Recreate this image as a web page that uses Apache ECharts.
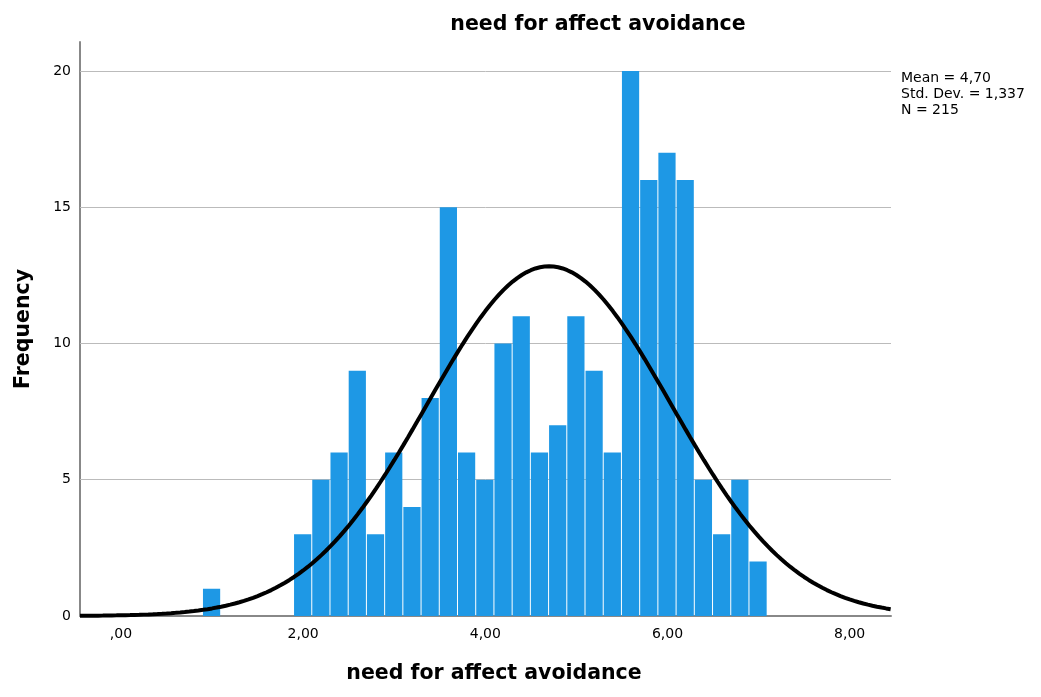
<!DOCTYPE html>
<html><head><meta charset="utf-8">
<script src="https://cdn.jsdelivr.net/npm/echarts@6/dist/echarts.min.js"></script>
<style>html,body{margin:0;padding:0;background:#fff}#c{width:1041px;height:697px}</style>
</head><body><div id="c"></div>
<script>
const binCenters = [1.0,2.0,2.2,2.4,2.6,2.8,3.0,3.2,3.4,3.6,3.8,4.0,4.2,4.4,4.6,4.8,5.0,5.2,5.4,5.6,5.8,6.0,6.2,6.4,6.6,6.8,7.0];
const frequencies = [1,3,5,6,9,3,6,4,8,15,6,5,10,11,6,7,11,9,6,20,16,17,16,5,3,5,2];
const binWidth = 0.2;
const statMean = 4.70;
const statSD = 1.337;
const statN = 215;
const xTicks = [0,2,4,6,8];
const yTicks = [0,5,10,15,20];
const gridValues = [5,10,15,20];

const curve = [];
for (let i = 0; i <= 178; i++) {
  const x = -0.45 + i * 0.05;
  const z = (x - statMean) / statSD;
  curve.push([x, statN * binWidth * Math.exp(-0.5 * z * z) / (statSD * Math.sqrt(2 * Math.PI))]);
}
const bars = binCenters.map((c, i) => [c - binWidth/2, c + binWidth/2, frequencies[i]]);
const fmt = v => (v === 0 ? ',00' : v.toFixed(2).replace('.', ','));
const F = 'DejaVu Sans';

const chart = echarts.init(document.getElementById('c'), null, {renderer:'canvas'});
chart.setOption({
  animation:false,
  textStyle:{fontFamily:F},
  title:{text:'need for affect avoidance', left:593, top:9, textAlign:'center',
    textStyle:{fontFamily:F, fontSize:20.5, fontWeight:'bold', color:'#000'}},
  graphic:[{type:'text', left:901, top:70, style:{
    text:'Mean = ' + statMean.toFixed(2).replace('.', ',') + '\nStd. Dev. = ' + statSD.toFixed(3).replace('.', ',') + '\nN = ' + statN,
    font:'14px DejaVu Sans', fill:'#000', lineHeight:16}}],
  grid:{left:80, right:150, top:42, bottom:81},
  xAxis:{type:'value', min:-0.45, max:8.454, interval:2,
    name:'need for affect avoidance', nameLocation:'middle', nameGap:47,
    nameTextStyle:{fontFamily:F, fontSize:20.5, fontWeight:'bold', color:'#000', padding:[0,0,0,17]},
    axisLine:{show:true, onZero:false, lineStyle:{color:'#888', width:2}},
    axisTick:{show:false}, splitLine:{show:false},
    axisLabel:{color:'#000', fontSize:14, margin:11,
      customValues:xTicks, formatter:v => fmt(v)}},
  yAxis:{type:'value', min:0, max:21.06, interval:5,
    name:'Frequency', nameLocation:'middle', nameGap:46,
    nameTextStyle:{fontFamily:F, fontSize:20.5, fontWeight:'bold', color:'#000'},
    axisLine:{show:true, onZero:false, lineStyle:{color:'#888', width:2}},
    axisTick:{show:false},
    splitLine:{show:false},
    axisLabel:{color:'#000', fontSize:14, margin:9, customValues:yTicks, formatter:v => String(v)}},
  series:[
    {type:'custom', data:bars, encode:{x:[0,1], y:2}, z:2,
      renderItem:(params, api) => {
        const p0 = api.coord([api.value(0), 0]);
        const p1 = api.coord([api.value(1), api.value(2)]);
        return {type:'rect', shape:{x:p0[0], y:p1[1], width:p1[0]-p0[0]-1, height:p0[1]-p1[1]},
          style:{fill:'#1e98e5'}};
      },
      markLine:{silent:true, symbol:['none','none'], label:{show:false}, z:1,
        lineStyle:{color:'#bbb', width:1, type:'solid'},
        data:gridValues.map(v => ({yAxis:v}))}},
    {type:'line', data:curve, showSymbol:false, smooth:false, z:3,
      lineStyle:{color:'#000', width:4}}
  ]
});
</script></body></html>
